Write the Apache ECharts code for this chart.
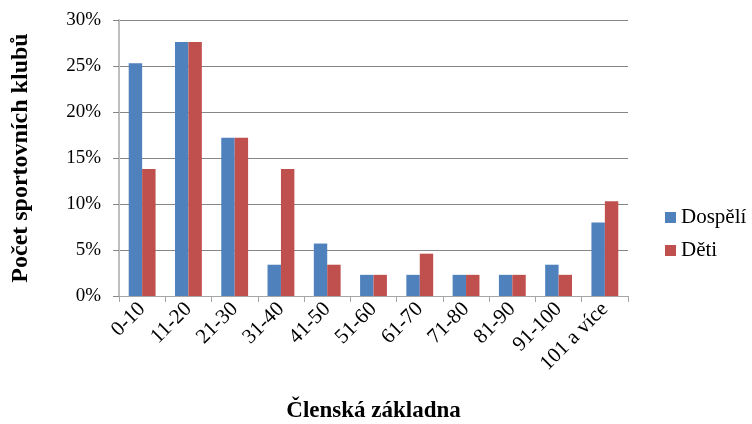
<!DOCTYPE html>
<html>
<head>
<meta charset="utf-8">
<script src="https://cdn.jsdelivr.net/npm/echarts@6/dist/echarts.min.js"></script>
<style>
    html, body { margin: 0; padding: 0; background: #fff; }
    #chart { width: 752px; height: 424px; }
</style>
</head>
<body>
<div id="chart"></div>
<script>
var categories = ['0-10', '11-20', '21-30', '31-40', '41-50', '51-60', '61-70', '71-80', '81-90', '91-100', '101 a více'];
var dospeli = [25.3, 27.6, 17.2, 3.4, 5.7, 2.3, 2.3, 2.3, 2.3, 3.4, 8.0];
var deti = [13.8, 27.6, 17.2, 13.8, 3.4, 2.3, 4.6, 2.3, 2.3, 2.3, 10.3];
var yTicks = [0, 5, 10, 15, 20, 25, 30];

var font = '"Liberation Serif", "DejaVu Serif", serif';
var chart = echarts.init(document.getElementById('chart'));

chart.setOption({
    animation: false,
    textStyle: { fontFamily: font, color: '#000' },
    color: ['#4F81BD', '#C0504D'],
    legend: {
        orient: 'vertical',
        left: 660,
        top: 202,
        itemWidth: 11,
        itemHeight: 11,
        itemGap: 12,
        icon: 'rect',
        textStyle: { fontFamily: font, fontSize: 21, color: '#000' },
        data: ['Dospělí', 'Děti']
    },
    grid: { left: 119, right: 124, top: 20, bottom: 128, outerBoundsMode: 'none', containLabel: false },
    xAxis: {
        type: 'category',
        data: categories,
        name: 'Členská základna',
        nameLocation: 'middle',
        nameGap: 104,
        nameTextStyle: { fontFamily: font, fontSize: 23, fontWeight: 'bold', color: '#000' },
        axisLine: { lineStyle: { color: '#a6a6a6' } },
        axisTick: { show: true, length: 6, lineStyle: { color: '#a6a6a6' } },
        axisLabel: { rotate: 45, fontSize: 21, color: '#000', margin: 10, fontFamily: font }
    },
    yAxis: {
        type: 'value',
        min: yTicks[0],
        max: yTicks[yTicks.length - 1],
        interval: 5,
        name: 'Počet sportovních klubů',
        nameLocation: 'middle',
        nameGap: 86,
        nameTextStyle: { fontFamily: font, fontSize: 24, fontWeight: 'bold', color: '#000' },
        axisLine: { show: true, lineStyle: { color: '#bfbfbf', width: 2 } },
        axisTick: { show: true, length: 6, lineStyle: { color: '#868686' } },
        axisLabel: { formatter: '{value}%', fontSize: 19, color: '#000', margin: 18, fontFamily: font },
        splitLine: { lineStyle: { color: '#868686', width: 1 } }
    },
    series: [{
        name: 'Dospělí',
        type: 'bar',
        data: dospeli,
        barGap: '0%',
        barCategoryGap: '42%'
    }, {
        name: 'Děti',
        type: 'bar',
        data: deti
    }]
});
</script>
</body>
</html>
